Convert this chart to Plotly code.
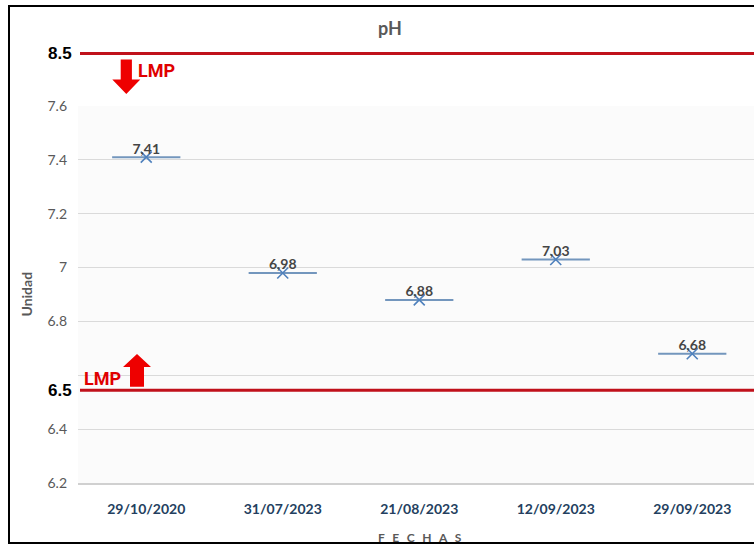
import plotly.graph_objects as go

# Sampling dates and measured pH
fechas = ["29/10/2020", "31/07/2023", "21/08/2023", "12/09/2023", "29/09/2023"]
ph = [7.41, 6.98, 6.88, 7.03, 6.68]

# Permissible limits (LMP)
lmp_min = 6.5
lmp_max = 8.5

# Axis ticks
y_ticks = [6.2, 6.4, 6.6, 6.8, 7.0, 7.2, 7.4, 7.6]
y_ticktext = ["6.2", "6.4", "", "6.8", "7", "7.2", "7.4", "7.6"]

W, H = 754, 545
ML, MR, MT, MB = 78, 0, 40, 62
PW, PH = W - ML - MR, H - MT - MB
PLOT_TOP = 106  # top of the measurement panel, in pixels


def px_x(px):
    return (px - ML) / PW


def px_y(py):
    return (H - MB - py) / PH


x_idx = list(range(len(fechas)))
labels = [f"{v:.2f}".replace(".", ",") for v in ph]

fig = go.Figure()
fig.add_trace(go.Scatter(
    x=x_idx, y=ph, mode="markers",
    marker=dict(symbol="x-thin", size=11, color="#4f81bd",
                line=dict(width=1.6, color="#4f81bd")),
    error_x=dict(type="constant", value=0.25, width=0,
                 thickness=2, color="#7396bd"),
    showlegend=False, cliponaxis=False,
))
fig.add_trace(go.Scatter(
    x=x_idx, y=ph, mode="text",
    text=labels, textposition="top center",
    textfont=dict(family="Lato", size=14, color="#454545", weight="bold"),
    showlegend=False, cliponaxis=False,
))

limit_color = "#c0111b"
arrow_color = "#ee0000"
shapes = []
annotations = []

# Limit lines on a secondary scale spanning the full chart height
for v in (lmp_min, lmp_max):
    shapes.append(dict(type="line", xref="paper", yref="y2",
                       x0=px_x(80), x1=1.0, y0=v, y1=v,
                       line=dict(color=limit_color, width=3)))
    annotations.append(dict(xref="paper", yref="y2", x=px_x(60), y=v,
                            text=f"<b>{v}</b>", showarrow=False,
                            xanchor="center", yanchor="middle",
                            font=dict(family="Liberation Sans", size=17, color="#000000")))

# Down arrow below the upper limit
shapes.append(dict(type="path", xref="paper", yref="y2",
                   xsizemode="pixel", ysizemode="pixel",
                   xanchor=px_x(126.3), yanchor=lmp_max,
                   path="M -5.6,-6 L 5.6,-6 L 5.6,-26 L 14,-26 L 0,-40.5 L -14,-26 L -5.6,-26 Z",
                   fillcolor=arrow_color, line=dict(width=0)))
# Up arrow above the lower limit
shapes.append(dict(type="path", xref="paper", yref="y2",
                   xsizemode="pixel", ysizemode="pixel",
                   xanchor=px_x(137), yanchor=lmp_min,
                   path="M -7,3.6 L 7,3.6 L 7,23.3 L 14,23.3 L 0,36.3 L -14,23.3 L -7,23.3 Z",
                   fillcolor=arrow_color, line=dict(width=0)))

lmp_font = dict(family="Liberation Sans Narrow, Roboto, Liberation Sans", size=18,
                color="#e00000")
annotations.append(dict(xref="paper", yref="y2", x=px_x(136), y=lmp_max, yshift=-17,
                        text="<b>LMP</b>", showarrow=False, xanchor="left",
                        yanchor="middle", font=lmp_font))
annotations.append(dict(xref="paper", yref="y2", x=px_x(123), y=lmp_min, yshift=12,
                        text="<b>LMP</b>", showarrow=False, xanchor="right",
                        yanchor="middle", font=lmp_font))

# Axis titles
annotations.append(dict(xref="paper", yref="paper", x=px_x(26), y=px_y(294.5),
                        text="<b>Unidad</b>", textangle=-90, showarrow=False,
                        xanchor="center", yanchor="middle",
                        font=dict(family="Lato", size=14, color="#595959")))
annotations.append(dict(xref="paper", yref="paper", x=px_x(420), y=px_y(537),
                        text="<b>" + "\u2002\u2009".join("FECHAS") + "</b>", showarrow=False,
                        xanchor="center", yanchor="middle",
                        font=dict(family="Lato", size=12, color="#595959")))
# Chart title
annotations.append(dict(xref="paper", yref="paper", x=px_x(390), y=px_y(28),
                        text="<b>pH</b>", showarrow=False,
                        xanchor="center", yanchor="middle",
                        font=dict(family="Lato", size=18, color="#595959")))

# Outer frame
shapes.append(dict(type="rect", xref="paper", yref="paper",
                   x0=px_x(9), x1=px_x(800), y0=px_y(543), y1=px_y(6),
                   line=dict(color="#000000", width=2), layer="below"))
# Measurement panel background
shapes.append(dict(type="rect", xref="paper", yref="paper",
                   x0=0, x1=1, y0=0, y1=px_y(PLOT_TOP),
                   fillcolor="#fbfbfb", line=dict(width=0), layer="below"))

# Limit scale: 6.5 sits at 390.3 px and 8.5 at 53.5 px
lim_ppu = (390.3 - 53.5) / (lmp_max - lmp_min)
y2_range = [lmp_min - (H - MB - 390.3) / lim_ppu, lmp_min + (390.3 - MT) / lim_ppu]

fig.update_layout(
    width=W, height=H,
    margin=dict(l=ML, r=MR, t=MT, b=MB),
    paper_bgcolor="#ffffff", plot_bgcolor="rgba(0,0,0,0)",
    shapes=shapes, annotations=annotations,
    xaxis=dict(range=[-0.5, -0.5 + PW / 136.5], tickvals=x_idx, ticktext=fechas,
               showgrid=False, zeroline=False,
               showline=True, linecolor="#d0d0d0", linewidth=1.5,
               ticks="", ticklabelstandoff=12,
               tickfont=dict(family="Lato", size=14, color="#243f60", weight="bold")),
    yaxis=dict(range=[6.2, 7.6], domain=[0, px_y(PLOT_TOP)],
               tickvals=y_ticks, ticktext=y_ticktext,
               showgrid=True, gridcolor="#dadada", gridwidth=1,
               zeroline=False, showline=False, ticks="", ticklabelstandoff=10,
               tickfont=dict(family="Lato", size=14, color="#595959")),
    yaxis2=dict(anchor="x", domain=[0, 1], range=y2_range, visible=False),
)

fig.write_html("out.html")
